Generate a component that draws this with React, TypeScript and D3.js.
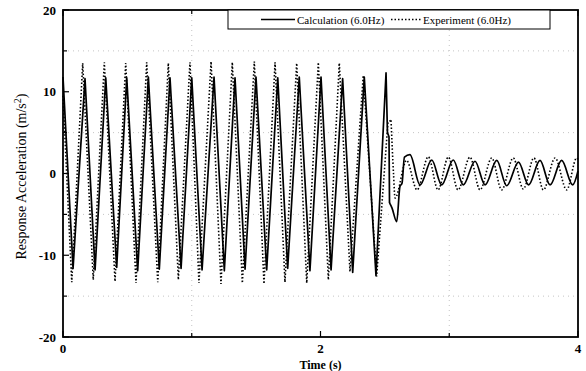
import * as d3 from "d3"

// Calculation (6.0Hz): forced part (peaks / troughs), then free vibration tail
const calcMain: [number, number][] = [
  [0, 11.8], [0.078, -11.6], [0.171, 11.6], [0.249, -11.8], [0.332, 11.7],
  [0.417, -11.5], [0.495, 11.7], [0.58, -11.9], [0.663, 11.8], [0.748, -11.7],
  [0.831, 11.7], [0.917, -11.6], [1.0, 11.7], [1.08, -11.8], [1.173, 11.8],
  [1.253, -11.9], [1.336, 11.7], [1.414, -11.7], [1.499, 11.8], [1.582, -11.8],
  [1.668, 11.7], [1.745, -11.6], [1.835, 11.8], [1.918, -11.9], [2.004, 11.8],
  [2.082, -11.8], [2.172, 11.6], [2.25, -12.1], [2.34, 11.8], [2.431, -12.5],
  [2.509, 12.3], [2.52, 5.0], [2.532, 4.5], [2.536, -3.6],
]
const calcTail: [number, number][] = [
  [2.536, -3.6], [2.555, -4.2], [2.592, -5.9], [2.617, -1.6], [2.633, -1.2],
  [2.652, 2.0], [2.695, 2.3], [2.773, -1.4], [2.864, 1.65], [2.941, -1.4],
  [3.031, 1.65], [3.109, -1.4], [3.2, 1.5], [3.278, -1.4], [3.369, 1.6],
  [3.446, -1.5], [3.538, 1.4], [3.616, -1.4], [3.705, 1.6], [3.783, -1.4],
  [3.873, 1.6], [3.959, -1.4], [4.0, 0.3],
]

// Experiment (6.0Hz)
const expMain: [number, number][] = [
  [0, 9.5], [0.068, -13.3], [0.153, 13.5], [0.235, -13.0], [0.321, 13.6],
  [0.404, -13.2], [0.487, 13.5], [0.567, -13.4], [0.65, 13.6], [0.736, -13.3],
  [0.818, 13.5], [0.896, -13.0], [0.986, 13.6], [1.056, -13.4], [1.15, 13.7],
  [1.227, -13.5], [1.315, 13.6], [1.393, -13.4], [1.486, 13.7], [1.561, -13.5],
  [1.647, 13.6], [1.724, -13.3], [1.815, 13.5], [1.893, -13.4], [1.983, 13.6],
  [2.061, -13.0], [2.146, 13.5], [2.229, -12.0], [2.332, 12.0], [2.436, -12.6],
  [2.524, 6.3], [2.548, 6.5],
]
const expTail: [number, number][] = [
  [2.548, 6.5], [2.567, 0], [2.579, -3.0], [2.668, 1.6], [2.75, -2.0],
  [2.837, 2.05], [2.913, -2.0], [2.993, 2.0], [3.068, -2.0], [3.161, 2.0],
  [3.239, -2.0], [3.33, 1.9], [3.407, -2.0], [3.497, 1.9], [3.575, -1.9],
  [3.658, 1.9], [3.731, -2.0], [3.822, 1.9], [3.912, -2.0], [3.99, 1.9], [4.0, 1.7],
]

const xTicks = [0, 1, 2, 3, 4]
const xLabels = [0, 2, 4]
const yTicks = [-20, -15, -10, -5, 0, 5, 10, 15, 20]
const yLabels = [-20, -10, 0, 10, 20]
const xGrid = [1, 3]
const yGrid = [-15, -5, 5, 15]

const W = 586
const H = 371
const font = "'Liberation Serif', 'Times New Roman', serif"

export default function App() {
  const x = d3.scaleLinear().domain([0, 4]).range([63, 578])
  const y = d3.scaleLinear().domain([-20, 20]).range([337, 10])

  const lin = d3.line<[number, number]>().x((d) => x(d[0])).y((d) => y(d[1]))
  const smooth = d3
    .line<[number, number]>()
    .x((d) => x(d[0]))
    .y((d) => y(d[1]))
    .curve(d3.curveMonotoneX)

  const [x0, x1] = x.range()
  const [yb, yt] = y.range()

  return (
    <svg
      width={W}
      height={H}
      style={{ position: "absolute", left: 0, top: 0, background: "#fff" }}
      fontFamily={font}
    >
      {/* dotted grid, very faint in the scan */}
      {yGrid.map((v) => (
        <line key={"gy" + v} x1={x0} x2={x1} y1={y(v)} y2={y(v)}
          stroke="#c4c4c4" strokeWidth={1} strokeDasharray="1 4" />
      ))}
      {xGrid.map((v) => (
        <line key={"gx" + v} x1={x(v)} x2={x(v)} y1={yt} y2={yb}
          stroke="#c4c4c4" strokeWidth={1} strokeDasharray="1 4" />
      ))}

      {/* series */}
      <path d={lin(expMain) ?? ""} fill="none" stroke="#000" strokeWidth={1.6} strokeDasharray="1.5 2" />
      <path d={smooth(expTail) ?? ""} fill="none" stroke="#000" strokeWidth={1.6} strokeDasharray="1.5 2" />
      <path d={lin(calcMain) ?? ""} fill="none" stroke="#000" strokeWidth={1.7} strokeLinejoin="round" />
      <path d={smooth(calcTail) ?? ""} fill="none" stroke="#000" strokeWidth={1.7} />

      {/* frame */}
      <rect x={x0} y={yt} width={x1 - x0} height={yb - yt} fill="none" stroke="#000" strokeWidth={1.8} />

      {/* ticks */}
      {xTicks.map((v) => (
        <g key={"xt" + v}>
          <line x1={x(v)} x2={x(v)} y1={yb} y2={yb - (v % 2 === 0 ? 6 : 4)} stroke="#000" strokeWidth={1.2} />
          <line x1={x(v)} x2={x(v)} y1={yt} y2={yt + (v % 2 === 0 ? 6 : 4)} stroke="#000" strokeWidth={1.2} />
        </g>
      ))}
      {yTicks.map((v) => (
        <line key={"yt" + v} x1={x0} x2={x0 + (v % 10 === 0 ? 6 : 4)} y1={y(v)} y2={y(v)} stroke="#000" strokeWidth={1.2} />
      ))}

      {/* tick labels */}
      {xLabels.map((v) => (
        <text key={"xl" + v} x={x(v)} y={353} textAnchor="middle" fontSize={13} fontWeight="bold">
          {v}
        </text>
      ))}
      {yLabels.map((v) => (
        <text key={"yl" + v} x={56} y={y(v) + 4.5} textAnchor="end" fontSize={13} fontWeight="bold">
          {v}
        </text>
      ))}

      {/* axis titles */}
      <text transform={`translate(26,${(yt + yb) / 2 + 3}) rotate(-90)`} textAnchor="middle" fontSize={14}>
        Response Acceleration (m/s<tspan dy={-5} fontSize={10}>2</tspan><tspan dy={5}>)</tspan>
      </text>
      <text x={(x0 + x1) / 2} y={369} textAnchor="middle" fontSize={12} fontWeight="bold">
        Time (s)
      </text>

      {/* legend */}
      <rect x={228} y={yt} width={322} height={19} fill="#fff" stroke="#000" strokeWidth={1} />
      <line x1={261} x2={295} y1={19.5} y2={19.5} stroke="#000" strokeWidth={1.5} />
      <text x={297} y={23.5} fontSize={11}>Calculation (6.0Hz)</text>
      <line x1={391} x2={422} y1={19.5} y2={19.5} stroke="#000" strokeWidth={1.5} strokeDasharray="1.5 2" />
      <text x={423} y={23.5} fontSize={11}>Experiment (6.0Hz)</text>
    </svg>
  )
}
